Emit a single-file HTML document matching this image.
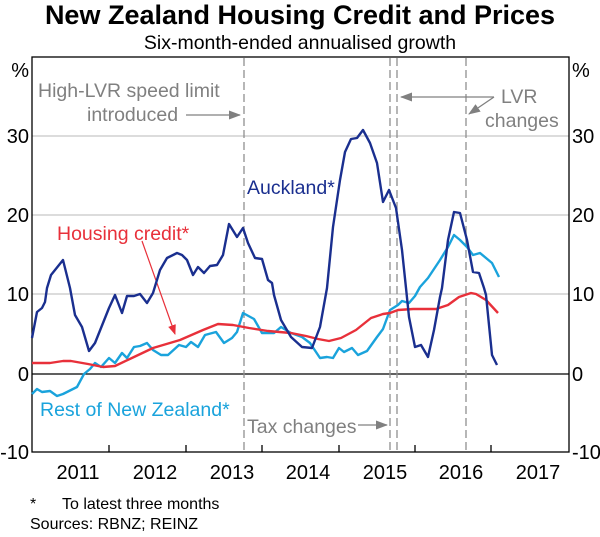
<!DOCTYPE html>
<html><head><meta charset="utf-8"><style>
body{margin:0;background:#fff}
svg{display:block;font-family:"Liberation Sans",sans-serif}
</style></head><body>
<svg width="600" height="537" viewBox="0 0 600 537">
<defs><marker id="ag" markerWidth="12" markerHeight="9" refX="11" refY="4.5" orient="auto" markerUnits="userSpaceOnUse"><path d="M0,0 L12,4.5 L0,9 Z" fill="#808080"/></marker>
<marker id="ar" markerWidth="10" markerHeight="8" refX="9" refY="4" orient="auto" markerUnits="userSpaceOnUse"><path d="M0,0 L10,4 L0,8 Z" fill="#e8303a"/></marker></defs>
<text x="300" y="24" font-size="27" font-weight="bold" text-anchor="middle">New Zealand Housing Credit and Prices</text>
<text x="300" y="49" font-size="19.5" text-anchor="middle">Six-month-ended annualised growth</text>
<g stroke="#d0d0d0" stroke-width="1.5">
<line x1="32" y1="136" x2="569" y2="136"/><line x1="32" y1="215" x2="569" y2="215"/><line x1="32" y1="294" x2="569" y2="294"/>
</g>
<line x1="32" y1="374" x2="569" y2="374" stroke="#000" stroke-width="1.3"/>
<g stroke="#909090" stroke-width="1.3" stroke-dasharray="8,4">
<line x1="244" y1="58" x2="244" y2="452"/><line x1="390" y1="58" x2="390" y2="452"/><line x1="397" y1="58" x2="397" y2="452"/><line x1="466" y1="58" x2="466" y2="452"/>
</g>
<rect x="32" y="57" width="537" height="395" fill="none" stroke="#000" stroke-width="1.3"/>
<g stroke="#000" stroke-width="1.3">
<line x1="109" y1="452" x2="109" y2="445"/><line x1="186" y1="452" x2="186" y2="445"/><line x1="262" y1="452" x2="262" y2="445"/><line x1="339" y1="452" x2="339" y2="445"/><line x1="415" y1="452" x2="415" y2="445"/><line x1="491" y1="452" x2="491" y2="445"/>
</g>
<g font-size="20" text-anchor="end">
<text x="29" y="77">%</text><text x="29" y="143">30</text><text x="29" y="222">20</text><text x="29" y="301">10</text><text x="29" y="381">0</text><text x="29" y="459">-10</text>
</g>
<g font-size="20">
<text x="572" y="77">%</text><text x="572" y="143">30</text><text x="572" y="222">20</text><text x="572" y="301">10</text><text x="572" y="381">0</text><text x="572" y="459">-10</text>
</g>
<g font-size="20" text-anchor="middle">
<text x="78" y="479">2011</text><text x="155" y="479">2012</text><text x="232" y="479">2013</text><text x="308" y="479">2014</text><text x="385" y="479">2015</text><text x="461" y="479">2016</text><text x="538" y="479">2017</text>
</g>
<g font-size="19.5" fill="#808080">
<text x="38" y="97">High-LVR speed limit</text>
<text x="87" y="121">introduced</text>
<text x="501" y="103">LVR</text>
<text x="485" y="127">changes</text>
<text x="247" y="433">Tax changes</text>
</g>
<g stroke="#808080" stroke-width="1.3" fill="none">
<line x1="186" y1="115" x2="240" y2="115" marker-end="url(#ag)"/>
<line x1="494" y1="97" x2="401" y2="97" marker-end="url(#ag)"/>
<line x1="494" y1="97" x2="469" y2="114" marker-end="url(#ag)"/>
<line x1="358" y1="425" x2="387" y2="425" marker-end="url(#ag)"/>
</g>
<line x1="142" y1="241" x2="175" y2="334" stroke="#e8303a" stroke-width="1.2" marker-end="url(#ar)"/>
<text x="247" y="194" font-size="19.5" fill="#1a2f8f">Auckland*</text>
<text x="57" y="240" font-size="19.5" fill="#e8303a">Housing credit*</text>
<text x="40" y="416" font-size="19.5" fill="#1aa3dc">Rest of New Zealand*</text>
<polyline fill="none" stroke="#1aa3dc" stroke-width="2.4" stroke-linejoin="round" points="32,394 37,389 42,392 50,391 57,396 63,394 77,387 84,374 90,369 95,363 101,367 109,358 115,363 122,353 127,358 134,347 140,346 147,343 153,350 161,355 168,355 179,345 186,347 191,342 198,347 205,335 216,332 224,343 232,338 237,332 243,313 254,319 262,333 274,333 281,327 291,333 302,337 310,343 320,358 327,357 333,358 339,348 344,352 352,348 358,355 367,351 377,337 383,329 390,310 398,305 402,301 409,303 415,296 420,287 428,278 440,260 448,247 454,235 460,240 467,247 473,255 480,253 492,263 499,277"/>
<polyline fill="none" stroke="#e8303a" stroke-width="2.4" stroke-linejoin="round" points="32,363 50,363 63,361 71,361 88,364 103,367 115,366 134,357 153,348 180,340 203,330 218,324 233,325 249,328 268,331 291,333 306,336 318,339 329,341 341,338 356,330 371,318 383,314 390,313 398,310 413,309 436,309 448,305 459,297 471,293 476,294 486,300 498,313"/>
<polyline fill="none" stroke="#1a2f8f" stroke-width="2.4" stroke-linejoin="round" points="32,338 37,312 42,308 45,302 47,288 51,275 63,260 70,288 75,315 82,327 89,351 95,343 101,328 109,308 115,295 122,313 127,296 134,296 140,294 147,303 153,293 160,270 167,258 177,253 182,255 187,260 193,275 198,267 204,273 210,266 217,265 223,255 229,224 237,237 243,228 248,243 255,258 262,259 268,280 272,283 274,295 281,320 291,337 302,347 312,348 320,327 327,288 333,227 340,180 345,152 351,139 357,138 363,130 370,143 377,163 383,202 389,190 396,208 402,250 406,288 409,317 415,347 421,345 428,357 434,330 440,297 442,288 448,240 454,212 460,213 467,240 473,272 479,273 484,288 486,295 492,355 497,365"/>
<text x="30" y="509" font-size="16">*</text>
<text x="62" y="509" font-size="16">To latest three months</text>
<text x="30" y="529" font-size="16">Sources:  RBNZ; REINZ</text>
</svg>
</body></html>
